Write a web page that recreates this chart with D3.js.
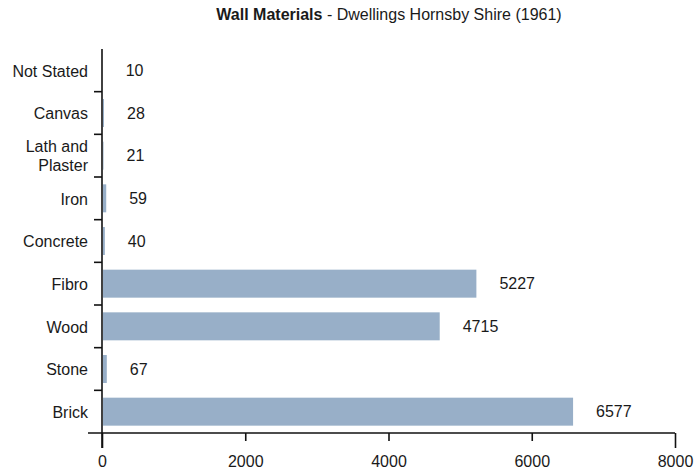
<!DOCTYPE html>
<html>
<head>
<meta charset="utf-8">
<script src="https://cdn.jsdelivr.net/npm/d3@7"></script>
<style>
  body { margin: 0; background: #fff; }
  text { font-family: "Liberation Sans", Arial, sans-serif; fill: #1a1a1a; }
</style>
</head>
<body>
<div id="chart"></div>
<script>
// Data, top to bottom as shown
var categories = ["Not Stated", "Canvas", "Lath and Plaster", "Iron", "Concrete", "Fibro", "Wood", "Stone", "Brick"];
var dwellings = [10, 28, 21, 59, 40, 5227, 4715, 67, 6577];
var xTicks = [0, 2000, 4000, 6000, 8000];

var width = 696, height = 473;
var margin = { top: 49, left: 102, right: 21, bottom: 40 };

var svg = d3.select("#chart")
    .append("svg")
    .attr("width", width)
    .attr("height", height);

var data = categories.map((c, i) => ({ cat: c, value: dwellings[i] }));

// Scales
var x = d3.scaleLinear().domain([0, 8000]).range([margin.left, width - margin.right]);
var y = d3.scaleBand().domain(categories)
    .range([margin.top, height - margin.bottom])
    .paddingInner(0.344)
    .paddingOuter(0.172);

var axisY = height - margin.bottom;

// Bars
svg.selectAll(".bar")
    .data(data)
    .enter()
    .append("rect")
    .attr("class", "bar")
    .attr("x", x(0) + 1)
    .attr("y", d => y(d.cat))
    .attr("width", d => Math.max(0, x(d.value) - x(0) - 1))
    .attr("height", y.bandwidth())
    .style("fill", "#98afc8");

// Value labels
svg.selectAll(".val")
    .data(data)
    .enter()
    .append("text")
    .attr("class", "val")
    .attr("x", d => x(d.value) + 23)
    .attr("y", d => y(d.cat) + y.bandwidth() / 2 + 1.5)
    .attr("dominant-baseline", "middle")
    .style("font-size", "16px")
    .text(d => d.value);

// X axis
var xAxis = svg.append("g")
    .attr("transform", "translate(0," + axisY + ")")
    .call(d3.axisBottom(x).tickValues(xTicks).tickSize(8).tickPadding(15).tickFormat(d3.format("d")));
xAxis.select(".domain").remove();
xAxis.selectAll("line").attr("stroke", "#111").attr("stroke-width", 1.6);
xAxis.selectAll("text").style("font-size", "16px").attr("fill", "#1a1a1a");
// end tick is longer
xAxis.selectAll(".tick").filter(d => d === 8000 || d === 0).select("line").attr("y2", 15);

svg.append("line")
    .attr("x1", 88).attr("x2", x(8000))
    .attr("y1", axisY).attr("y2", axisY)
    .attr("stroke", "#111").attr("stroke-width", 1.6);

// Y axis
var yAxis = svg.append("g")
    .attr("transform", "translate(" + x(0) + ",0)")
    .call(d3.axisLeft(y).tickSize(0).tickPadding(14));
yAxis.select(".domain").remove();
yAxis.selectAll("text").style("font-size", "16px").attr("fill", "#1a1a1a").attr("dy", "0.4em");

// two-line label
yAxis.selectAll(".tick text")
    .filter(d => d === "Lath and Plaster")
    .each(function() {
        var t = d3.select(this);
        var xx = t.attr("x");
        t.text(null).attr("dy", null);
        t.append("tspan").attr("x", xx).attr("dy", "-0.26em").text("Lath and");
        t.append("tspan").attr("x", xx).attr("dy", "1.25em").text("Plaster");
    });

svg.append("line")
    .attr("x1", x(0)).attr("x2", x(0))
    .attr("y1", margin.top).attr("y2", axisY + 15)
    .attr("stroke", "#111").attr("stroke-width", 1.6);

// ticks between categories
var boundaries = categories.slice(1).map(c => y(c) - y.step() * y.paddingInner() / 2);
svg.selectAll(".ytick")
    .data(boundaries)
    .enter()
    .append("line")
    .attr("x1", x(0) - 8).attr("x2", x(0))
    .attr("y1", d => d).attr("y2", d => d)
    .attr("stroke", "#111").attr("stroke-width", 1.6);

// Title
var title = svg.append("text")
    .attr("x", 389)
    .attr("y", 20)
    .attr("text-anchor", "middle")
    .style("font-size", "16px");
title.append("tspan").style("font-weight", "bold").text("Wall Materials");
title.append("tspan").text(" - Dwellings Hornsby Shire (1961)");
</script>
</body>
</html>
